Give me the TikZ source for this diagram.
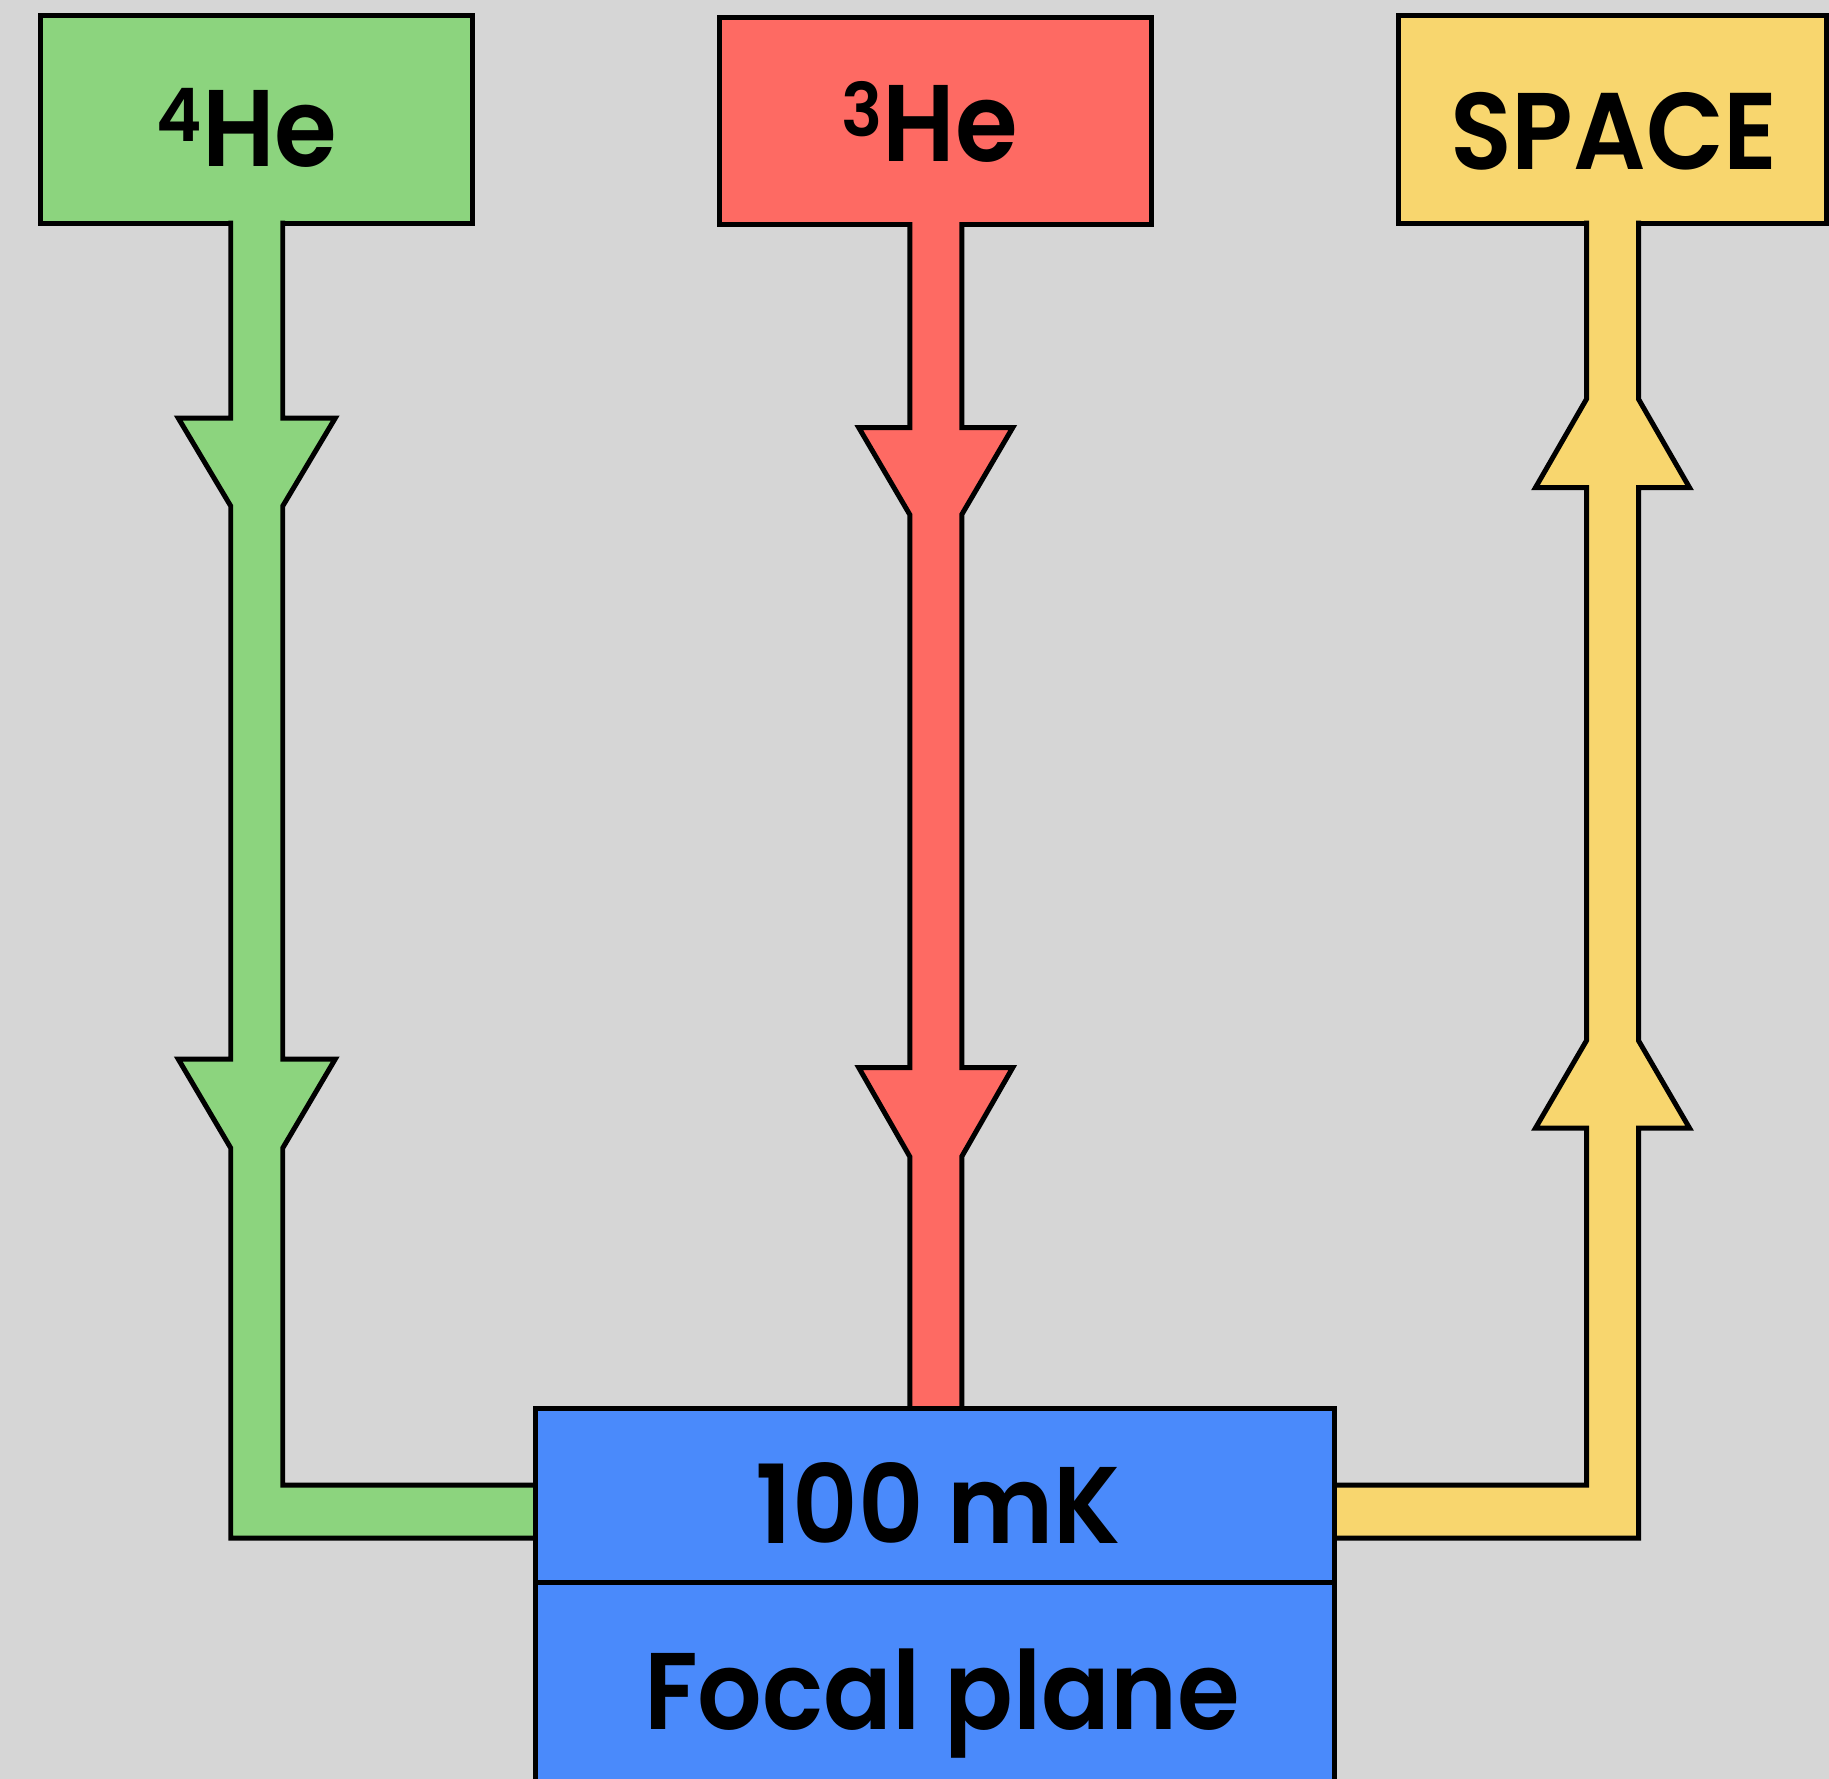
\documentclass[tikz,border=0pt]{standalone}
\usepackage{fontspec}
\setmainfont{Poppins}[BoldFont={Poppins SemiBold}, BoldFeatures={FakeStretch=0.93}]
\usetikzlibrary{calc}
\pgfdeclarelayer{bg}
\pgfdeclarelayer{lower}
\pgfdeclarelayer{pipes}
\pgfsetlayers{bg,lower,pipes,main}

\definecolor{paper}{RGB}{214,214,214}
\definecolor{heliumfour}{RGB}{140,212,126}
\definecolor{heliumthree}{RGB}{254,106,99}
\definecolor{spacecol}{RGB}{248,214,110}
\definecolor{stagecol}{RGB}{74,138,251}

\tikzset{
  box/.style={rectangle, draw=black, line width=1.42pt, inner sep=0pt, outer sep=0pt},
  lbl/.style={inner sep=0pt, anchor=base, font=\fontsize{31}{31}\selectfont\bfseries},
  pipe/.style={line width=1.42pt, line join=miter}
}
\newcommand{\isotope}[2]{\raisebox{7.3pt}{\fontsize{21}{21}\selectfont #1}#2}

\begin{document}
\begin{tikzpicture}[x=0.01cm, y=-0.01cm]
  \begin{pgfonlayer}{bg}
    \fill[paper] (0,0) rectangle (1829,1779);
  \end{pgfonlayer}
  \useasboundingbox (0,0) rectangle (1829,1779);

  % coolant and sink boxes along the top
  \begin{pgfonlayer}{lower}
    \node[box, fill=heliumfour, minimum width=4.315cm, minimum height=2.07cm] (he4) at (256.75,119.5) {};
    \node[box, fill=heliumthree, minimum width=4.315cm, minimum height=2.065cm] (he3) at (935.75,121.25) {};
    \node[box, fill=spacecol, minimum width=4.28cm, minimum height=2.075cm] (space) at (1612.5,119.25) {};
  \end{pgfonlayer}

  % the cold stage
  \node[box, fill=stagecol, minimum width=7.99cm, minimum height=1.74cm] (temp) at (935,1496) {};
  \node[box, fill=stagecol, minimum width=7.99cm, minimum height=4cm] (focal) at (935,1783) {};

  \begin{pgfonlayer}{pipes}
    % 4He feed: two downward funnels, then round the corner into the stage
    \begin{scope}[shift={(he4.south)}]
      \fill[heliumfour] (-26,-3) -- (-26,195) -- (-78.5,195) -- (-26,283) -- (-26,836)
        -- (-78.5,836) -- (-26,925) -- (-26,1315) -- (temp.west |- 0,1315)
        -- (temp.west |- 0,1262) -- (26,1262) -- (26,925) -- (78.5,836) -- (26,836)
        -- (26,283) -- (78.5,195) -- (26,195) -- (26,-3) -- cycle;
      \draw[pipe] (-26,-2.5) -- (-26,195) -- (-78.5,195) -- (-26,283) -- (-26,836)
        -- (-78.5,836) -- (-26,925) -- (-26,1315) -- (temp.west |- 0,1315);
      \draw[pipe] (26,-2.5) -- (26,195) -- (78.5,195) -- (26,283) -- (26,836)
        -- (78.5,836) -- (26,925) -- (26,1262) -- (temp.west |- 0,1262);
    \end{scope}

    % 3He feed straight down onto the stage
    \begin{scope}[shift={(he3.south)}]
      \fill[heliumthree] (-26,-3) -- (-26,203) -- (-77,203) -- (-26,290) -- (-26,843)
        -- (-77,843) -- (-26,932) -- (-26,0 |- temp.north) -- (26,0 |- temp.north)
        -- (26,932) -- (77,843) -- (26,843) -- (26,290) -- (77,203) -- (26,203)
        -- (26,-3) -- cycle;
      \draw[pipe] (-26,-2.5) -- (-26,203) -- (-77,203) -- (-26,290) -- (-26,843)
        -- (-77,843) -- (-26,932) -- (-26,0 |- temp.north);
      \draw[pipe] (26,-2.5) -- (26,203) -- (77,203) -- (26,290) -- (26,843)
        -- (77,843) -- (26,932) -- (26,0 |- temp.north);
    \end{scope}

    % heat rejected from the stage up to space
    \begin{scope}[shift={(space.south)}]
      \fill[spacecol] (-26,-3) -- (-26,176) -- (-77,264.5) -- (-26,264.5) -- (-26,817.5)
        -- (-77,905) -- (-26,905) -- (-26,1262) -- (temp.east |- 0,1262)
        -- (temp.east |- 0,1315) -- (26,1315) -- (26,905) -- (77,905) -- (26,817.5)
        -- (26,264.5) -- (77,264.5) -- (26,176) -- (26,-3) -- cycle;
      \draw[pipe] (-26,-2.5) -- (-26,176) -- (-77,264.5) -- (-26,264.5) -- (-26,817.5)
        -- (-77,905) -- (-26,905) -- (-26,1262) -- (temp.east |- 0,1262);
      \draw[pipe] (26,-2.5) -- (26,176) -- (77,264.5) -- (26,264.5) -- (26,817.5)
        -- (77,905) -- (26,905) -- (26,1315) -- (temp.east |- 0,1315);
    \end{scope}
  \end{pgfonlayer}

  % labels
  \node[lbl] (he4lbl) at (247,167) {\isotope{4}{He}};
  \node[lbl] (he3lbl) at (930,162) {\isotope{3}{He}};
  \node[lbl] (spacelbl) at (1614,170) {SPACE};
  \node[lbl] (templbl) at (938.5,1543) {100 mK};
  \node[lbl] (focallbl) at (942,1729) {Focal plane};
\end{tikzpicture}
\end{document}
